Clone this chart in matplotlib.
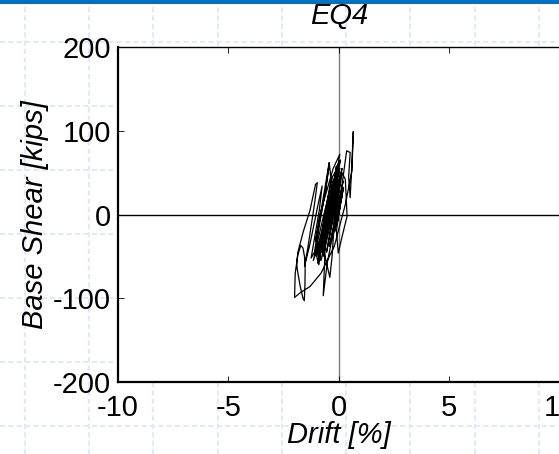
import matplotlib
matplotlib.use("Agg")
import matplotlib.pyplot as plt
from matplotlib.lines import Line2D
from matplotlib.patches import Rectangle

plt.rcParams['font.family'] = ['Liberation Sans', 'DejaVu Sans']
plt.rcParams['axes.unicode_minus'] = False

title = "EQ4"
xlabel = "Drift [%]"
ylabel = "Base Shear [kips]"
x_ticks = [-10, -5, 0, 5, 10]
y_ticks = [-200, -100, 0, 100, 200]

drift_pct = [
    0.00, 0.05, -0.04, 0.10, -0.08, 0.15, 0.00, -0.18, -0.05, 0.22,
    0.05, -0.30, -0.12, 0.20, 0.02, -0.42, -0.22, 0.10, -0.08, -0.55,
    -0.35, 0.15, -0.05, -0.70, -0.50, 0.00, -0.22, -0.88, -0.70, -0.35,
    -0.42, -0.60, -1.05, -0.85, -0.25, 0.05, -0.18, -0.60, -0.70, -0.52,
    -0.22, 0.15, 0.30, 0.38, 0.12, -0.02, -0.10, 0.20, 0.36, 0.52,
    0.45, 0.52, 0.60, 0.66, 0.60, 0.30, -0.20, -0.80, -1.30, -1.72,
    -2.00, -1.97, -1.85, -1.72, -1.62, -1.55, -1.52, -1.53, -1.56, -1.62,
    -1.75, -1.88, -1.90, -1.85, -1.60, -1.30, -1.05, -0.97, -1.10, -1.40,
    -1.55, -1.30, -0.95, -0.75, -0.88, -1.25, -1.10, -0.70, -0.43, -0.58,
    -1.00, -0.80, -0.55, -0.20, -0.10, -0.35, -0.85, -0.95, -0.65, -0.15,
    0.05, -0.25, -0.75, -0.55, -0.05, -0.30, -0.90, -0.60, -0.25, -0.50,
    -0.80, -0.40, -0.30, -0.10, 0.10, -0.15, -0.70, -0.45, -0.05, -0.30,
    -0.75, -0.50, -0.15, -0.40, -0.70, -0.45, -0.20, -0.40, -0.60, -0.42,
    -1.05, -0.90, -0.62, -0.35, -0.55, -0.95, -1.15, -0.85, -0.40, -0.28,
    -0.12, -0.30, -0.65, -0.80, -1.00, -0.70, -0.35, -0.05, 0.08, -0.20,
    -0.55, -0.78, -0.60, -0.25, -0.08, -0.32, -0.70, -0.92, -0.60, -0.30,
    0.00, -0.18, -0.48, -0.68, -0.50, -0.22, -0.05, -0.28, -0.58, -0.40,
    -0.25, -0.38, -0.55, -0.43, -0.32, -0.42, -0.50, -0.44,
]
base_shear_kips = [
    0, 8, -6, 15, -12, 22, 4, -20, -2, 32,
    10, -30, -5, 40, 14, -38, -12, 46, 18, -45,
    -15, 55, 28, -50, -18, 62, 30, -48, -12, 42,
    60, 28, -32, 0, 55, 72, 36, -30, -97, -58,
    -18, 50, 42, -2, -30, -46, -20, 45, 76, 74,
    45, 20, 62, 99, 52, 12, -38, -70, -86, -93,
    -99, -70, -48, -37, -40, -50, -65, -85, -103, -100,
    -85, -65, -58, -45, -20, 5, 36, 38, 12, -40,
    -62, -35, 10, 34, 5, -52, -45, 20, 62, 32,
    -32, -55, -25, 42, 58, 20, -40, -58, -20, 48,
    55, 15, -45, -20, 50, 18, -45, -8, 40, 10,
    -30, -75, -50, 30, 50, 20, -40, -10, 38, 10,
    -35, -5, 35, 8, -28, -2, 28, 6, -20, 0,
    -45, -60, -15, 25, 5, -40, -55, -20, 30, 45,
    52, 28, -10, -35, -50, -15, 22, 55, 65, 30,
    -15, -42, -25, 18, 45, 15, -30, -50, -12, 25,
    50, 35, -5, -30, -10, 15, 40, 15, -18, -5,
    20, 5, -14, 0, 12, 2, -8, 0,
]

W, H = 559, 454
fig = plt.figure(figsize=(W / 100, H / 100), dpi=100)
fig.patch.set_facecolor("white")

# slide-style background grid
grid_col = "#e3e9f9"
for px in [25, 89, 153, 218, 282, 346, 410, 475, 539]:
    fig.add_artist(Line2D([px / W, px / W], [0, 1], transform=fig.transFigure,
                          color=grid_col, lw=1.5, ls=(0, (2.5, 1.5)), zorder=0))
for py in [42, 106, 170, 234, 298, 362, 426]:
    fig.add_artist(Line2D([0, 1], [1 - py / H, 1 - py / H], transform=fig.transFigure,
                          color=grid_col, lw=1.5, ls=(0, (2.5, 1.5)), zorder=0))
fig.add_artist(Rectangle((0, 1 - 4 / H), 1, 4 / H, transform=fig.transFigure,
                         facecolor="#0070c0", edgecolor="none", zorder=1))

left = 118 / W
bottom = 1 - 382 / H
width = (559.4 - 118) / W
height = (382 - 47) / H
ax = fig.add_axes([left, bottom, width, height])
ax.set_facecolor("white")

ax.axhline(0, color="black", lw=1.0, zorder=1)
ax.axvline(0, color="#7f7f7f", lw=1.0, zorder=1)
ax.plot(drift_pct, base_shear_kips, color="black", lw=0.9, zorder=2)

ax.set_xlim(-10, 10)
ax.set_ylim(-200, 200)
ax.set_xticks(x_ticks)
ax.set_yticks(y_ticks)
ax.tick_params(direction="in", length=4, width=0.6, labelsize=21, top=True,
               right=False, color="black")
ax.tick_params(axis="x", pad=9)
ax.tick_params(axis="y", pad=5)

ax.spines["left"].set_linewidth(1.6)
ax.spines["bottom"].set_linewidth(1.6)
ax.spines["top"].set_linewidth(1.0)
ax.spines["right"].set_linewidth(0.8)
ax.spines["right"].set_color("#999999")

fig.text(339 / W, 1 - 16 / H, title, ha="center", va="center", fontsize=21,
         style="italic")
fig.text(339 / W, 1 - 435 / H, xlabel, ha="center", va="center", fontsize=21,
         style="italic")
fig.text(35 / W, 1 - 215 / H, ylabel, ha="center", va="center", fontsize=21,
         style="italic", rotation=90)

fig.savefig("out.png", dpi=100)
